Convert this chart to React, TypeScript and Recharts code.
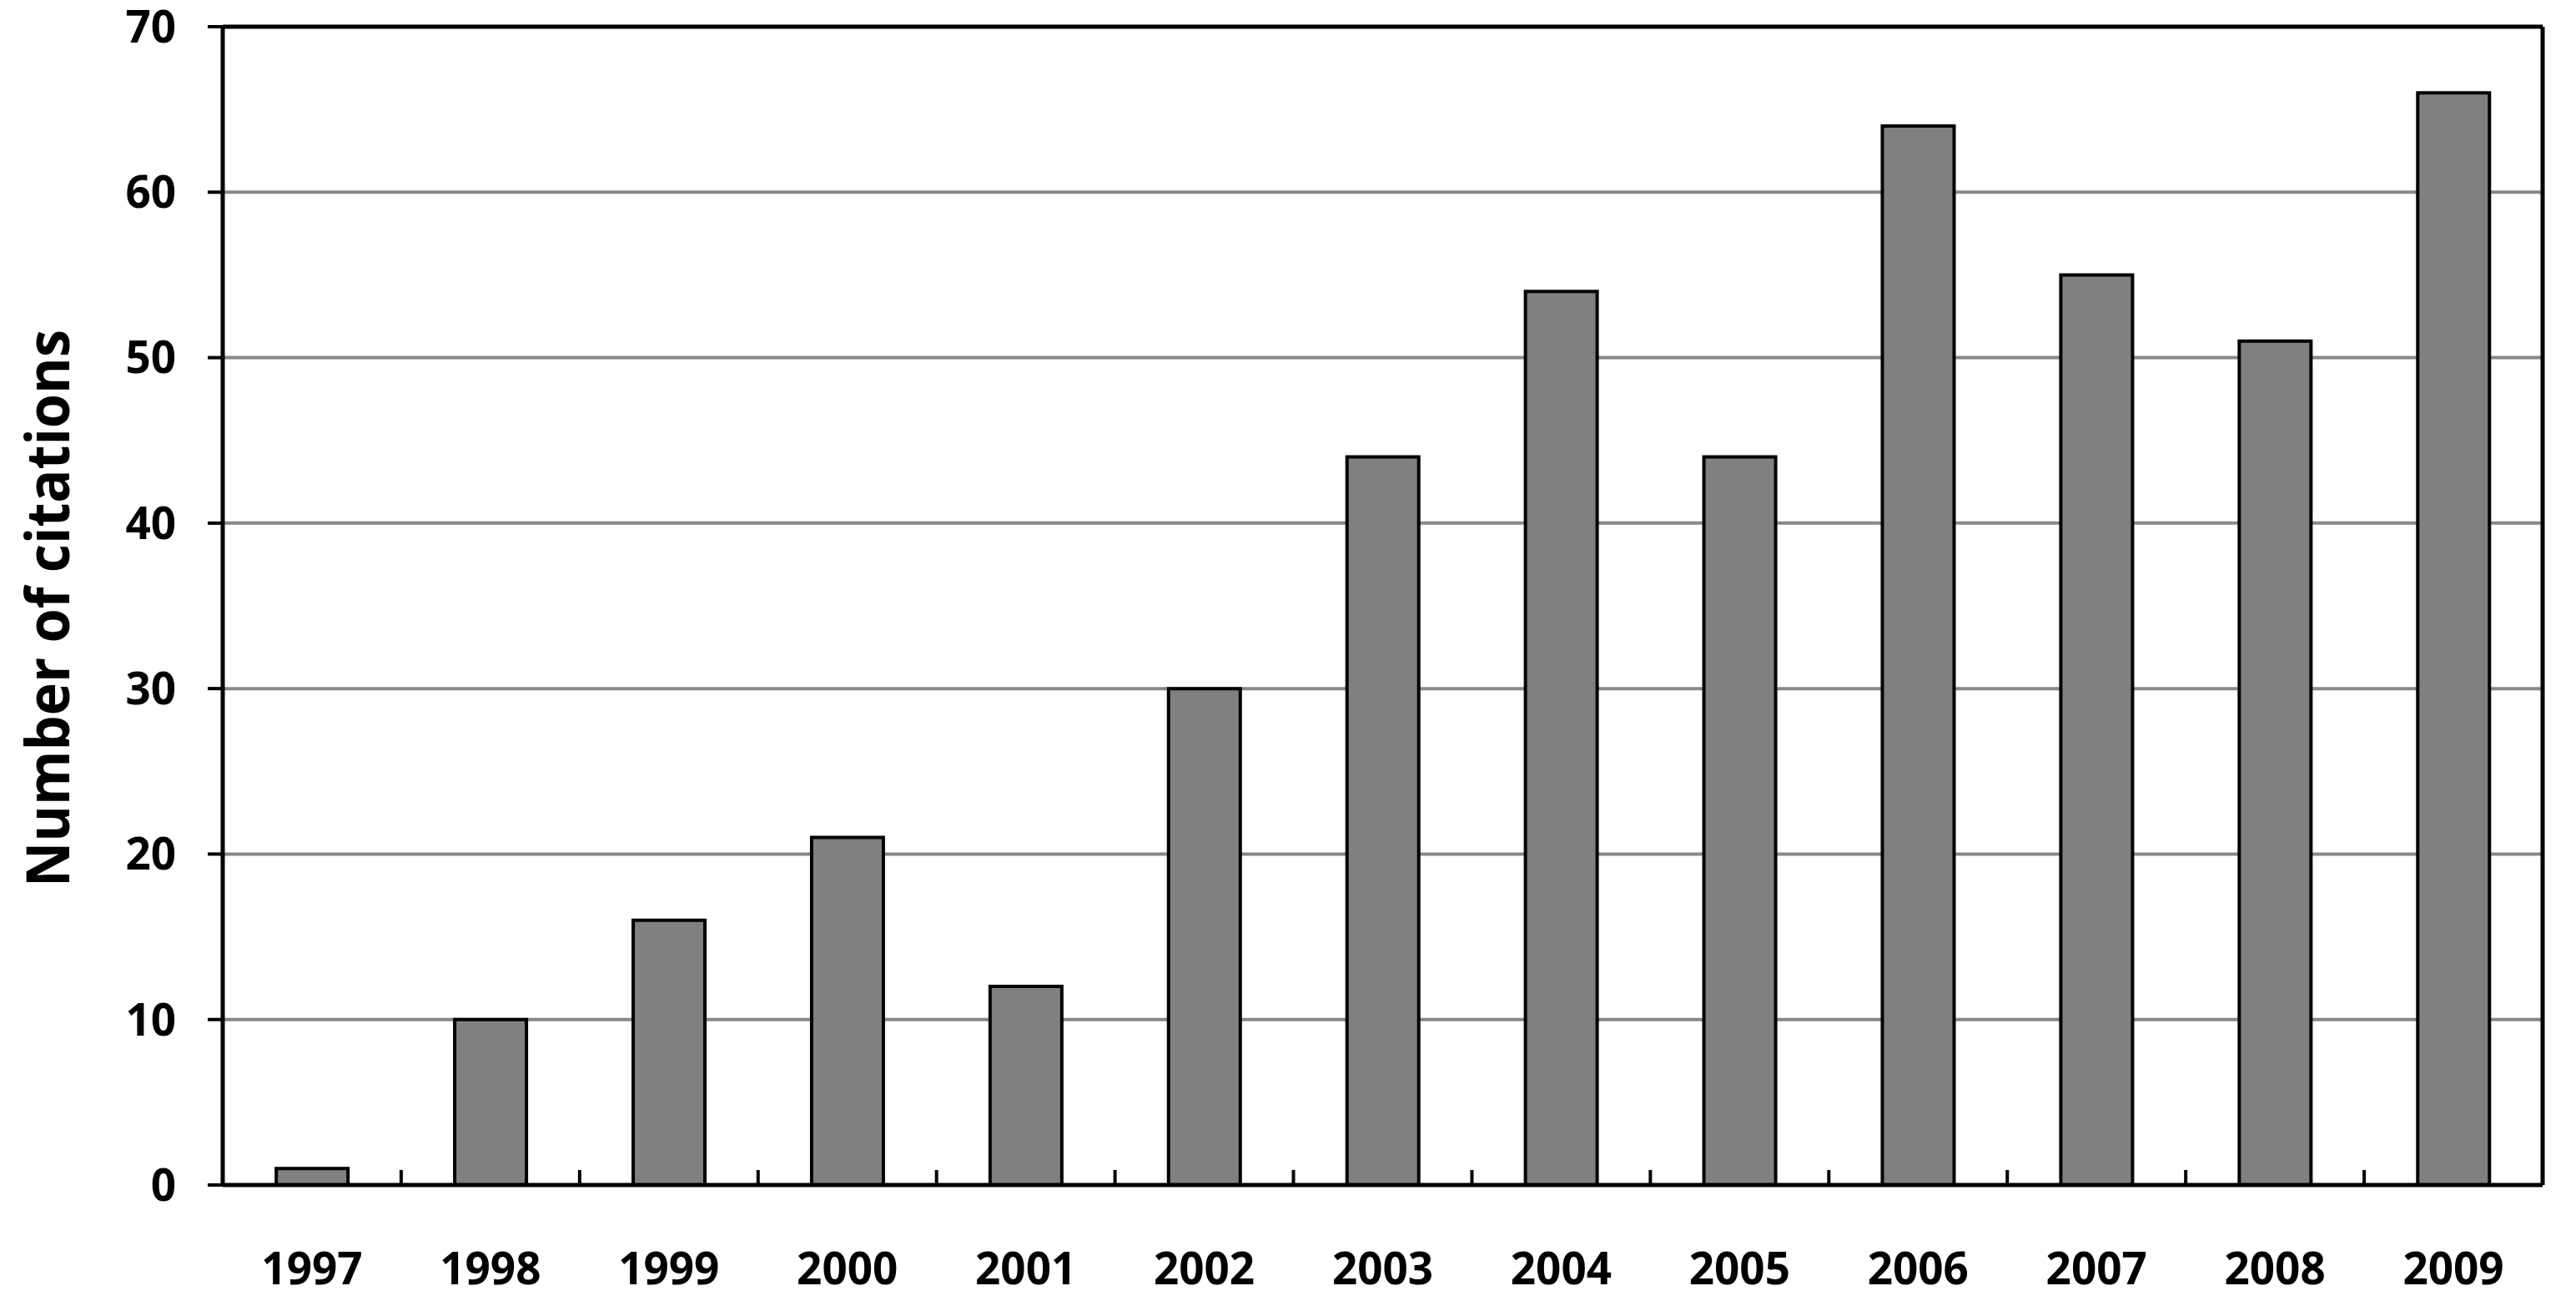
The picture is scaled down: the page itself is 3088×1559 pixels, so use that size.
import React from 'react';
import { BarChart, Bar, XAxis, YAxis, CartesianGrid, Label } from 'recharts';

const years = ['1997', '1998', '1999', '2000', '2001', '2002', '2003', '2004', '2005', '2006', '2007', '2008', '2009'];
const citations = [1, 10, 16, 21, 12, 30, 44, 54, 44, 64, 55, 51, 66];
const yTicks = [0, 10, 20, 30, 40, 50, 60, 70];
const yLabel = 'Number of citations';

const data = years.map((y, i) => ({ year: y, citations: citations[i] }));

const W = 3088;
const H = 1559;
const MARGIN = { top: 32, right: 40, bottom: 0, left: 0 };
const Y_AXIS_W = 267;
const X_AXIS_H = 139;
const BAND_HALF = (W - MARGIN.left - MARGIN.right - Y_AXIS_W) / years.length / 2;
const FONT = "'Open Sans', 'DejaVu Sans', sans-serif";

const XTick = (props: any) => {
  const { x, y, payload, index } = props;
  const half = payload && typeof payload.offset === 'number' && payload.offset > 0 ? payload.offset : BAND_HALF;
  return (
    <g>
      <line x1={x - half} x2={x - half} y1={y} y2={y - 18} stroke="#000" strokeWidth={4} />
      {index === years.length - 1 ? (
        <line x1={x + half} x2={x + half} y1={y} y2={y - 18} stroke="#000" strokeWidth={4} />
      ) : null}
      <text x={x} y={y + 119} textAnchor="middle" fontFamily={FONT} fontWeight={700} fontSize={53} fill="#000">
        {payload.value}
      </text>
    </g>
  );
};

const YLabelContent = (props: any) => {
  const vb = props.viewBox || { x: 0, y: 32, width: 267, height: 1388 };
  const cy = vb.y + vb.height / 2 + 3;
  const cx = 83;
  return (
    <text
      x={cx}
      y={cy}
      transform={`rotate(-90, ${cx}, ${cy})`}
      textAnchor="middle"
      fontFamily={FONT}
      fontWeight={700}
      fontSize={71}
      fill="#000"
      textLength={668}
      lengthAdjust="spacingAndGlyphs"
    >
      {yLabel}
    </text>
  );
};

const topEdge = (args: any) => [args.offset.top];
const rightEdge = (args: any) => [args.offset.left + args.offset.width];

export default function App() {
  return (
    <div style={{ position: 'absolute', left: 0, top: 0, width: W, height: H, background: '#fff' }}>
      <BarChart width={W} height={H} data={data} margin={MARGIN} barCategoryGap="30%">
        <CartesianGrid vertical={false} stroke="#888" strokeWidth={4} />
        <CartesianGrid
          stroke="#000"
          strokeWidth={5}
          horizontalCoordinatesGenerator={topEdge}
          verticalCoordinatesGenerator={rightEdge}
        />
        <XAxis
          dataKey="year"
          height={X_AXIS_H}
          interval={0}
          tickSize={0}
          tickMargin={0}
          tickLine={false}
          axisLine={{ stroke: '#000', strokeWidth: 5 }}
          tick={<XTick />}
        />
        <YAxis
          domain={[0, 70]}
          ticks={yTicks}
          interval={0}
          width={Y_AXIS_W}
          tickSize={18}
          tickMargin={38}
          tickLine={{ stroke: '#000', strokeWidth: 4 }}
          axisLine={{ stroke: '#000', strokeWidth: 5 }}
          tick={{ fontFamily: FONT, fontWeight: 700, fontSize: 53, fill: '#000' }}
        >
          <Label content={<YLabelContent />} position="insideLeft" />
        </YAxis>
        <Bar dataKey="citations" fill="#808080" stroke="#000" strokeWidth={4} isAnimationActive={false} />
      </BarChart>
    </div>
  );
}
